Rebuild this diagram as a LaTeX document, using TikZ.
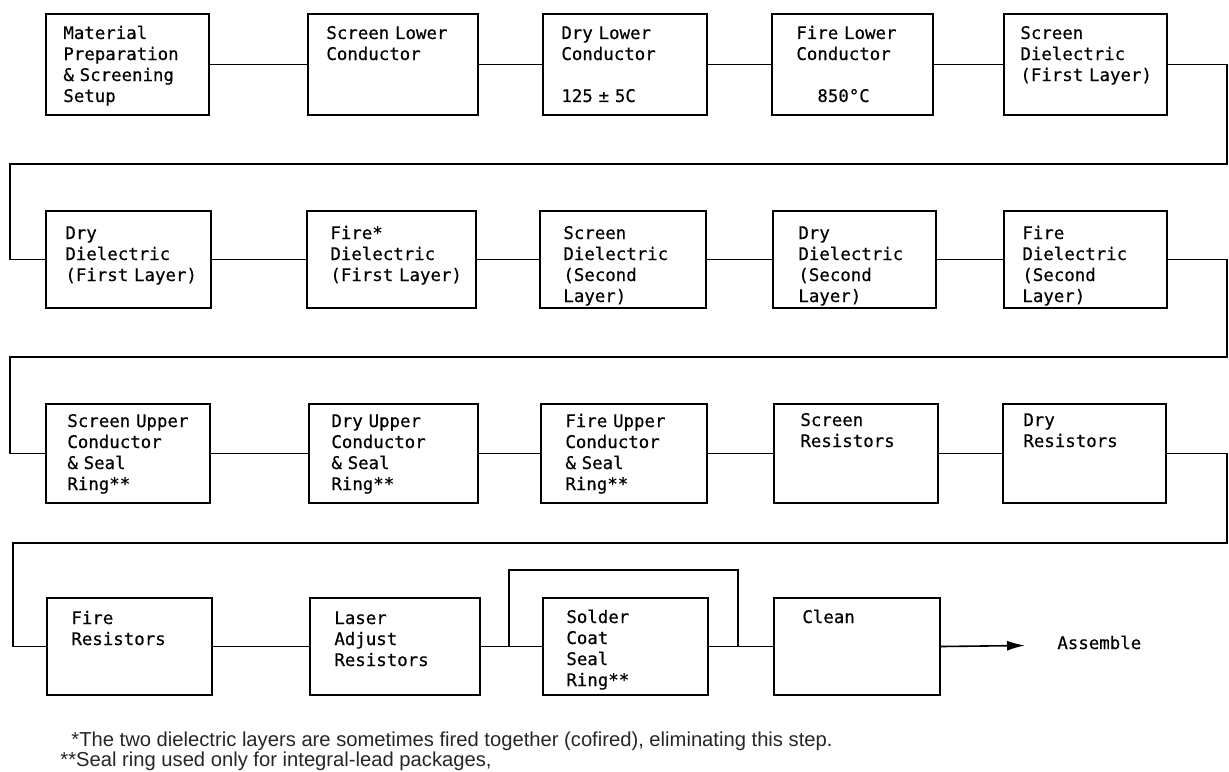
\documentclass[tikz,border=0pt]{standalone}
\usepackage{fontspec}
\setmainfont{Liberation Sans}
\newfontfamily\boxfont[FakeBold=0.4]{DejaVu Sans Mono}
\usetikzlibrary{arrows.meta}
\newcommand\stepnode[5]{\node[stepbox, minimum width={(#4-#2)*0.5pt}, minimum height={(#5-#3)*0.5pt}] (#1) at (#2,#3) {};}
\newcommand\steptext[4]{\node[steplabel] (#1t) at (#2,#3) {#4};}
\begin{document}
\begin{tikzpicture}[x=0.5pt,y=-0.5pt,
  stepbox/.style={draw, line width=1pt, inner sep=0pt, anchor=north west},
  steplabel/.style={anchor=base west, inner sep=0pt, align=left, text width=80pt,
    font=\boxfont\fontsize{8.7}{10.5}\selectfont},
  conn/.style={line width=0.8pt},
  foot/.style={anchor=base west, inner sep=0pt, text=black!85, font=\fontsize{10.1}{11}\selectfont}]
\useasboundingbox (0,0) rectangle (1229,771);
% Row 1
\stepnode{b11}{45}{13}{208}{114}
\stepnode{b12}{307}{13}{477}{114}
\stepnode{b13}{542}{13}{706}{114}
\stepnode{b14}{771}{13}{932}{114}
\stepnode{b15}{1003}{13}{1166}{114}
\steptext{b11}{63}{39}{Material\\Preparation\\\& Screening\\Setup}
\steptext{b12}{326}{39}{Screen Lower\\Conductor}
\steptext{b13}{561}{39}{Dry Lower\\Conductor\\[10.5pt]125 ± 5C}
\steptext{b14}{796}{39}{Fire Lower\\Conductor\\[10.5pt]\hspace*{10.5pt}850°C}
\steptext{b15}{1020}{39}{Screen\\Dielectric\\(First Layer)}
% Row 2
\stepnode{b21}{45}{210}{210}{307}
\stepnode{b22}{306}{210}{475}{307}
\stepnode{b23}{539}{210}{705}{307}
\stepnode{b24}{772}{210}{935}{307}
\stepnode{b25}{1003}{210}{1166}{307}
\steptext{b21}{65}{239}{Dry\\Dielectric\\(First Layer)}
\steptext{b22}{330}{239}{Fire*\\Dielectric\\(First Layer)}
\steptext{b23}{563}{239}{Screen\\Dielectric\\(Second\\Layer)}
\steptext{b24}{798}{239}{Dry\\Dielectric\\(Second\\Layer)}
\steptext{b25}{1022}{239}{Fire\\Dielectric\\(Second\\Layer)}
% Row 3
\stepnode{b31}{45}{403}{209}{502}
\stepnode{b32}{308}{403}{477}{502}
\stepnode{b33}{540}{403}{706}{502}
\stepnode{b34}{773}{403}{937}{502}
\stepnode{b35}{1002}{403}{1165}{502}
\steptext{b31}{67}{427}{Screen Upper\\Conductor\\\& Seal\\Ring**}
\steptext{b32}{331}{427}{Dry Upper\\Conductor\\\& Seal\\Ring**}
\steptext{b33}{565}{427}{Fire Upper\\Conductor\\\& Seal\\Ring**}
\steptext{b34}{800}{426}{Screen\\Resistors}
\steptext{b35}{1023}{426}{Dry\\Resistors}
% Row 4
\stepnode{b41}{46}{597}{211}{694}
\stepnode{b42}{309}{597}{479}{694}
\stepnode{b43}{542}{597}{707}{694}
\stepnode{b44}{773}{597}{939}{694}
\steptext{b41}{71}{624}{Fire\\Resistors}
\steptext{b42}{334}{624}{Laser\\Adjust\\Resistors}
\steptext{b43}{566}{623}{Solder\\Coat\\Seal\\Ring**}
\steptext{b44}{802}{623}{Clean}
\node[steplabel, text width=] (asm) at (1057,649) {Assemble};
% turning points
\coordinate (r1) at (1227,164); \coordinate (l1) at (10,164);
\coordinate (r2) at (1227,357); \coordinate (l2) at (10,357);
\coordinate (r3) at (1227,543); \coordinate (l3) at (13,543);
\coordinate (p1) at (509,570);  \coordinate (p2) at (738,570);
\coordinate (atip) at (1025,645.5);
% connectors
\draw[conn] (b11) -- (b12); \draw[conn] (b12) -- (b13);
\draw[conn] (b13) -- (b14); \draw[conn] (b14) -- (b15);
\draw[conn] (b15.east) -| (r1) -- (l1) |- (b21.west);
\draw[conn] (b21) -- (b22); \draw[conn] (b22) -- (b23);
\draw[conn] (b23) -- (b24); \draw[conn] (b24) -- (b25);
\draw[conn] (b25.east) -| (r2) -- (l2) |- (b31.west);
\draw[conn] (b31) -- (b32); \draw[conn] (b32) -- (b33);
\draw[conn] (b33) -- (b34); \draw[conn] (b34) -- (b35);
\draw[conn] (b35.east) -| (r3) -- (l3) |- (b41.west);
\draw[conn] (b41) -- (b42); \draw[conn] (b42) -- (b43);
\draw[conn] (b43) -- (b44);
\draw[conn] (p1 |- b43.west) -- (p1) -- (p2) -- (p2 |- b44.west);
\draw[conn, -{Latex[length=9pt,width=5pt]}] (b44.east) -- (atip);
% footnotes
\node[foot] (fn1) at (71,746) {*The two dielectric layers are sometimes fired together (cofired), eliminating this step.};
\node[foot] (fn2) at (60,766) {**Seal ring used only for integral-lead packages,};
\end{tikzpicture}
\end{document}
